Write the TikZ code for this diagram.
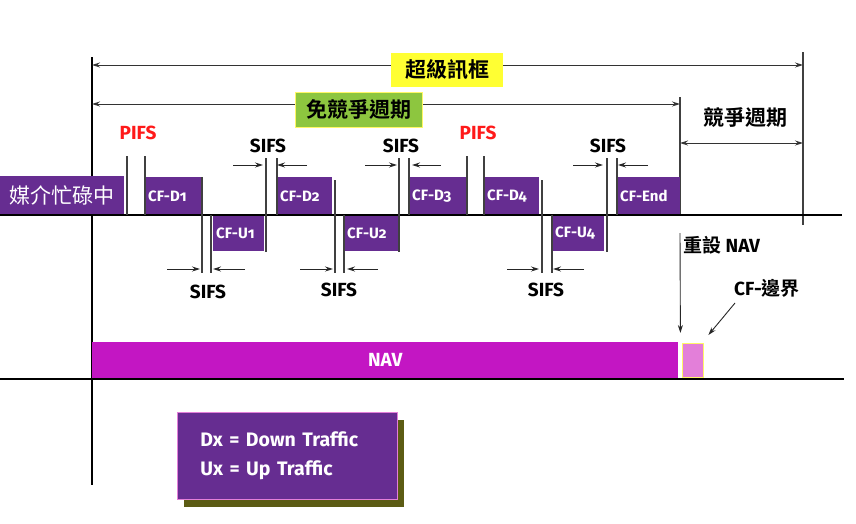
\documentclass[tikz,border=0pt]{standalone}
\usepackage{fontspec}
\setmainfont{Fira Sans}
\newfontfamily\cjk[BoldFont={Noto Sans CJK TC Bold}]{Noto Sans CJK TC}
\usetikzlibrary{arrows.meta,shadows}
\definecolor{busyviolet}{HTML}{662D91}
\definecolor{navmagenta}{HTML}{C316C3}
\definecolor{cfpink}{HTML}{E37FD9}
\definecolor{cfgreen}{HTML}{8DC63F}
\definecolor{sfyellow}{HTML}{FFFF33}
\definecolor{shadowolive}{HTML}{5C5C14}
\definecolor{tickgrey}{HTML}{404040}
\definecolor{pifsred}{HTML}{FF1A1A}

\begin{document}
\begin{tikzpicture}[x=1pt, y=-1pt,
    tick/.style={line width=1.3pt, tickgrey},
    span/.style={line width=1pt, black!80, {Stealth[length=8pt,width=5pt]}-{Stealth[length=8pt,width=5pt]}},
    gap/.style={line width=0.9pt, black!85, -{Stealth[length=8pt,width=5pt]}},
    frame/.style={fill=busyviolet, text=white, anchor=north west, minimum height=38pt,
        inner xsep=3pt, inner ysep=0pt, align=left, text width=#1,
        font=\bfseries\fontsize{15}{15}\selectfont\addfontfeatures{Numbers=OldStyle}},
    ifs/.style={font=\bfseries\fontsize{19}{19}\selectfont, inner sep=0pt},
    hanzi/.style={font=\cjk\bfseries\fontsize{21}{21}\selectfont, inner sep=0pt}]
  \useasboundingbox (0,0) rectangle (856,523);

  % boundaries of the superframe
  \draw[tick, black] (92,57) -- (92,485);
  \draw[tick] (680,97) -- (680,215);
  \draw[tick] (803,52) -- (803,225);

  % periods
  \draw[span] (92,65) -- (803,65);
  \node[hanzi, fill=sfyellow, minimum width=112pt, minimum height=34pt] (superframe) at (447,70) {超級訊框};
  \draw[span] (92,104) -- (680,104);
  \node[hanzi, fill=cfgreen, draw=yellow!60, minimum width=127pt, minimum height=35pt] (cfperiod) at (358.5,109.5) {免競爭週期};
  \draw[span] (680,143) -- (803,143);
  \node[hanzi] (cperiod) at (745,118) {競爭週期};

  % medium busy
  \node[fill=busyviolet, anchor=north west, minimum width=124pt, minimum height=39pt, inner sep=0pt,
        text=white, font=\cjk\fontsize{21}{21}\selectfont] (busy) at (0,176) {媒介忙碌中};

  % frames
  \node[frame=51pt] (d1) at (145,177) {CF-D1};
  \node[frame=45pt, minimum height=36pt] (u1) at (213,215) {CF-U1};
  \node[frame=49pt] (d2) at (277,177) {CF-D2};
  \node[frame=48pt, minimum height=36pt] (u2) at (344,215) {CF-U2};
  \node[frame=51pt] (d3) at (409,177) {CF-D3};
  \node[frame=49pt] (d4) at (484,177) {CF-D4};
  \node[frame=46pt, minimum height=36pt] (u4) at (552,215) {CF-U4};
  \node[frame=57pt] (cfend) at (617,177) {CF-End};

  \draw[line width=1.3pt] (0,215) -- (842,215);

  % interframe spaces
  \foreach \x/\a/\b in {127/156/215, 145/156/215, 202/177/273, 211/215/273,
      266/158/252, 277/158/215, 335/180/273, 344/215/273, 399/158/252,
      409/158/215, 467/156/215, 484/156/215, 542/180/273, 552/215/273,
      607/158/252, 617/158/215}
    \draw[tick] (\x,\a) -- (\x,\b);
  \foreach \a/\b in {233/263, 307/277, 365/397, 441/412, 573/603, 648/618}
    \draw[gap] (\a,165) -- (\b,165);
  \foreach \a/\b in {167/200, 245/213, 300/333, 378/347, 507/539, 584/553}
    \draw[gap] (\a,269) -- (\b,269);

  \node[ifs, text=pifsred] (pifs1) at (138,133) {PIFS};
  \node[ifs, text=pifsred] (pifs2) at (478,133) {PIFS};
  \node[ifs] (sifs1) at (268,146) {SIFS};
  \node[ifs] (sifs2) at (401,146) {SIFS};
  \node[ifs] (sifs3) at (608,146) {SIFS};
  \node[ifs] (sifs4) at (208,292) {SIFS};
  \node[ifs] (sifs5) at (339,290) {SIFS};
  \node[ifs] (sifs6) at (546,290) {SIFS};

  % NAV
  \node[fill=navmagenta, text=white, anchor=north west, minimum width=586pt, minimum height=36pt, ifs] (nav) at (92,342) {NAV};
  \node[fill=cfpink, draw=yellow!60, anchor=north west, minimum width=21pt, minimum height=34pt, inner sep=0pt] (cfb) at (682,343) {};
  \draw[line width=1.3pt] (0,379) -- (844,379);

  \node[ifs, anchor=west] (reset) at (683,245) {{\cjk\bfseries 重設} NAV};
  \coordinate (resetstart) at (680,233);
  \draw[gap] (resetstart) -- ([xshift=2pt,yshift=9pt]nav.north east);
  \node[ifs] (cfblabel) at (767,288) {CF-{\cjk\bfseries 邊界}};
  \coordinate (cfbstart) at (735,303);
  \draw[gap] (cfbstart) -- ([xshift=5pt,yshift=8pt]cfb.north east);

  % legend
  \node[fill=busyviolet, draw=cfpink, line width=0.8pt, anchor=north west, minimum width=220pt, minimum height=87pt,
        text width=174pt, inner xsep=23pt, align=left, text=white, font=\bfseries\fontsize{19.5}{29}\selectfont,
        general shadow={fill=shadowolive, shadow xshift=7pt, shadow yshift=-8pt}] (legend) at (177,412)
        {Dx = Down Traffic\\Ux = Up Traffic};
\end{tikzpicture}
\end{document}
